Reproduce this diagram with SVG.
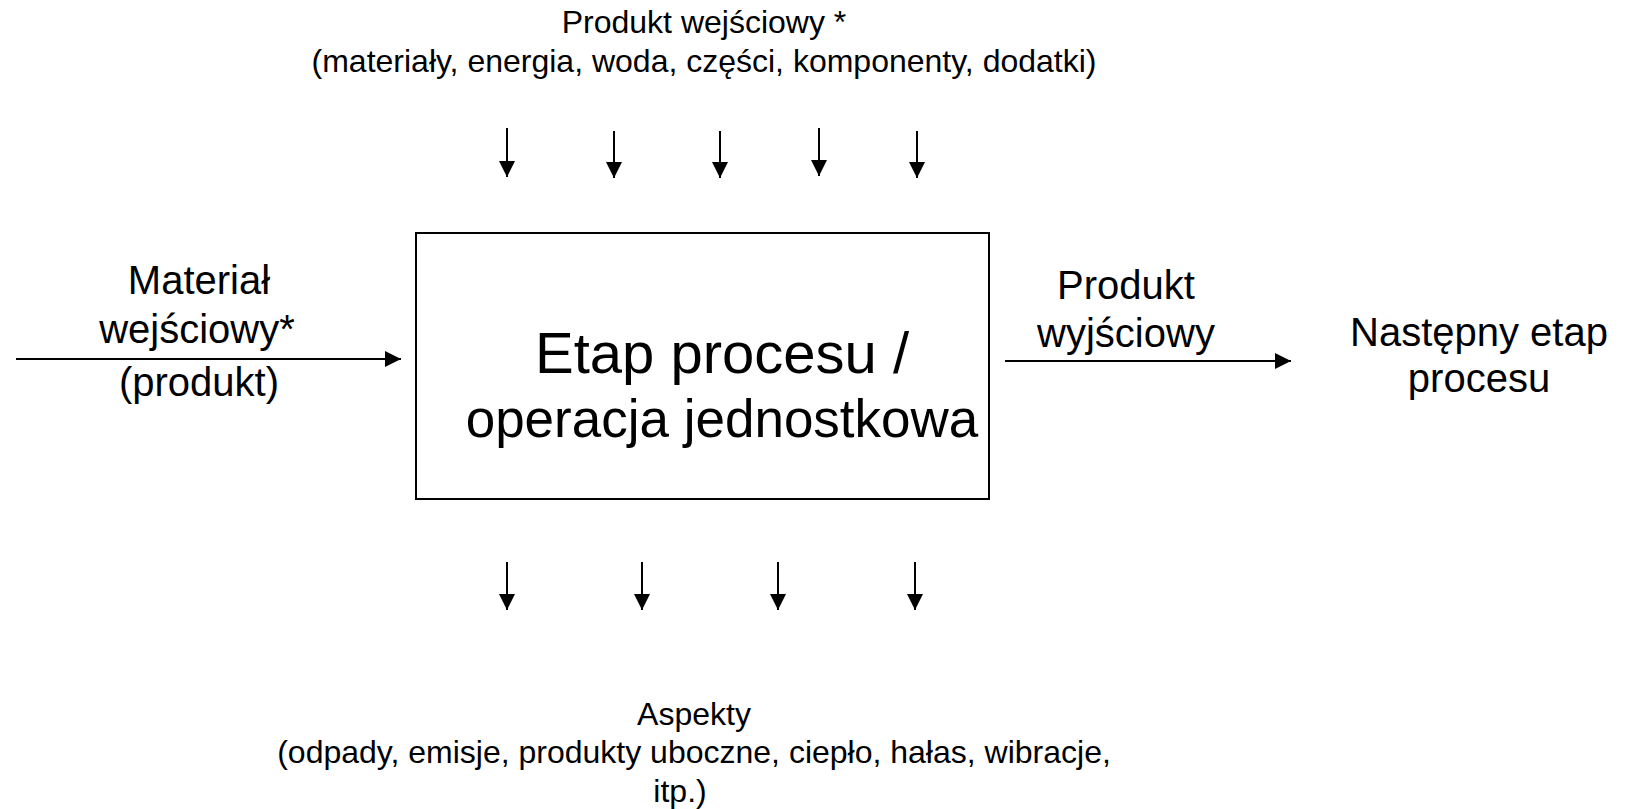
<svg xmlns="http://www.w3.org/2000/svg" width="1632" height="809" viewBox="0 0 1632 809">
  <style>
    text { font-family: "Liberation Sans", Arial, sans-serif; fill: #000; text-anchor: middle; }
    .small { font-size: 32px; }
    .mid { font-size: 40px; }
    .flow { stroke: #000; stroke-width: 2; fill: none; marker-end: url(#head); }
    .box { fill: #fff; stroke: #000; stroke-width: 2; }
  </style>
  <defs>
    <marker id="head" markerUnits="userSpaceOnUse" markerWidth="17" markerHeight="16" refX="16" refY="8" orient="auto">
      <path d="M0,0 L16,8 L0,16 z" fill="#000"/>
    </marker>
  </defs>
  <rect width="1632" height="809" fill="#fff"/>

  <!-- central process step -->
  <g id="process">
    <rect class="box" x="416" y="233" width="573" height="266"/>
    <text x="722" y="373" font-size="58">Etap procesu /</text>
    <text x="722" y="437" font-size="53">operacja jednostkowa</text>
  </g>

  <!-- inputs from above -->
  <g id="inputs">
    <text class="small" x="704" y="33">Produkt wejściowy *</text>
    <text class="small" x="704" y="72">(materiały, energia, woda, części, komponenty, dodatki)</text>
  </g>

  <!-- incoming material on the left -->
  <g id="material">
    <text class="mid" x="199" y="294">Materiał</text>
    <text class="mid" x="197" y="343">wejściowy*</text>
    <text class="mid" x="199" y="396">(produkt)</text>
  </g>

  <!-- output product -->
  <g id="output">
    <text class="mid" x="1126" y="299">Produkt</text>
    <text class="mid" x="1126" y="347">wyjściowy</text>
  </g>

  <!-- next process step -->
  <g id="next">
    <text class="mid" x="1479" y="346">Następny etap</text>
    <text class="mid" x="1479" y="392">procesu</text>
  </g>

  <!-- aspects released below -->
  <g id="aspects">
    <text class="small" x="694" y="725">Aspekty</text>
    <text class="small" x="694" y="763">(odpady, emisje, produkty uboczne, ciepło, hałas, wibracje,</text>
    <text class="small" x="680" y="802">itp.)</text>
  </g>

  <g id="connectors">
    <line class="flow" x1="16" y1="359" x2="401" y2="359"/>
    <line class="flow" x1="1005" y1="361" x2="1291" y2="361"/>
    <line class="flow" x1="507" y1="128" x2="507" y2="177"/>
    <line class="flow" x1="614" y1="131" x2="614" y2="178"/>
    <line class="flow" x1="720" y1="131" x2="720" y2="178"/>
    <line class="flow" x1="819" y1="128" x2="819" y2="176"/>
    <line class="flow" x1="917" y1="131" x2="917" y2="178"/>
    <line class="flow" x1="507" y1="562" x2="507" y2="610"/>
    <line class="flow" x1="642" y1="562" x2="642" y2="610"/>
    <line class="flow" x1="778" y1="562" x2="778" y2="610"/>
    <line class="flow" x1="915" y1="562" x2="915" y2="610"/>
  </g>
</svg>
